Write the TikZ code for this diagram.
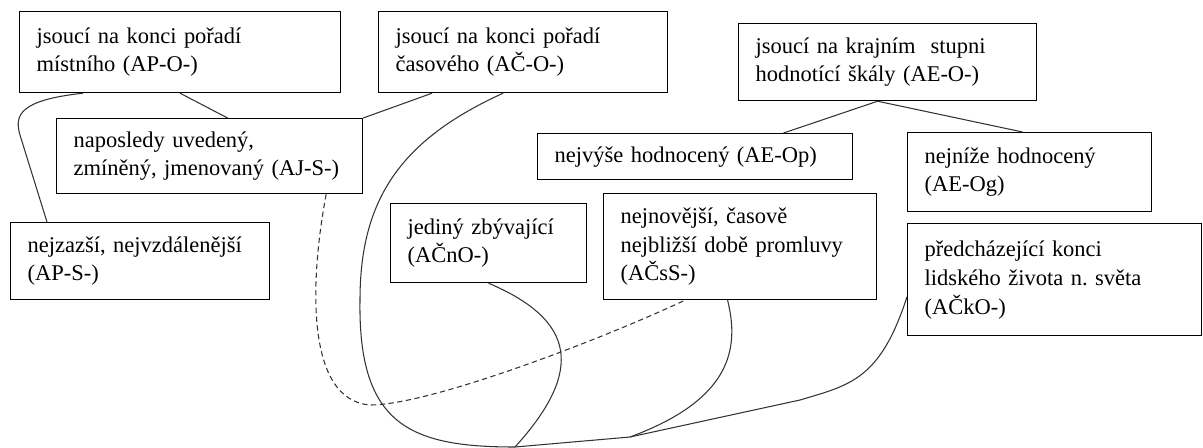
\documentclass[tikz,border=0pt]{standalone}
\usepackage{fontspec}
\setmainfont{Liberation Serif}
\usetikzlibrary{positioning}
\tikzset{
  box/.style={
    rectangle, draw=black, line width=0.7pt, anchor=north west,
    align=left, inner xsep=0.34cm, font=\fontsize{12.8pt}{16.4pt}\selectfont
  },
  link/.style={
    line width=0.6pt, black!80
  },
  hint/.style={
    link, dash pattern=on 3pt off 2pt
  }
}

\begin{document}
\begin{tikzpicture}[x=0.02cm, y=-0.02cm]
\useasboundingbox (0,0) rectangle (1203,447);
\node[box, text width=5.74cm, minimum height=1.62cm] (apo) at (19,11) {jsoucí na konci pořadí\\místního (AP-O-)};
\node[box, text width=5.10cm, minimum height=1.62cm] (aco) at (378,11) {jsoucí na konci pořadí\\časového (AČ-O-)};
\node[box, text width=5.28cm, minimum height=1.54cm] (aeo) at (738,23) {jsoucí na krajním\ \ stupni\\hodnotící škály (AE-O-)};
\node[box, text width=5.44cm, minimum height=1.50cm] (ajs) at (56,118) {naposledy uvedený,\\zmíněný, jmenovaný (AJ-S-)};
\node[box, text width=5.62cm, minimum height=0.92cm] (aeop) at (537,133) {nejvýše hodnocený (AE-Op)};
\node[box, text width=4.20cm, minimum height=1.58cm] (aeog) at (907,132) {nejníže hodnocený\\(AE-Og)};
\node[box, text width=4.50cm, minimum height=1.54cm] (aps) at (10,222) {nejzazší, nejvzdálenější\\(AP-S-)};
\node[box, text width=3.24cm, minimum height=1.58cm] (acno) at (390,203) {jediný zbývající\\(AČnO-)};
\node[box, text width=4.78cm, minimum height=2.12cm] (acss) at (603,193) {nejnovější, časově\\nejbližší době promluvy\\(AČsS-)};
\node[box, text width=5.20cm, minimum height=2.24cm, below=0.22cm of aeog.south west, anchor=north west] (acko) {předcházející konci\\lidského života n.\ světa\\(AČkO-)};

% meeting points at the lower edge
\coordinate (root) at (515,447);
\coordinate (fork) at (630,437);

\draw[link] (apo.south) -- ([xshift=0.36cm]ajs.north);
\draw[link] ([xshift=1.08cm]aco.south west) -- (ajs.north east);
\draw[link] ([xshift=1.28cm]apo.south west) .. controls (20,100) and (14,115) .. (20,135) -- ([xshift=0.74cm]aps.north west);
\draw[link] ([xshift=-0.2cm]aeo.south) -- ([xshift=1.77cm]aeop.north);
\draw[link] ([xshift=-0.2cm]aeo.south) -- ([xshift=-0.14cm]aeog.north);

\draw[link] ([xshift=-0.4cm]aco.south) .. controls (400,140) and (360,200) .. (360,300) .. controls (358,425) and (410,447) .. (root);
\draw[link] (acno.south) .. controls (575,320) and (585,370) .. (root);
\draw[link] ([xshift=-0.25cm]acss.south) .. controls (740,350) and (730,400) .. (fork);
\draw[link] ([yshift=-0.34cm]acko.west) .. controls (880,380) and (850,385) .. (800,400) -- (fork) -- (root);
\draw[hint] ([xshift=-0.74cm]ajs.south east) .. controls (310,280) and (305,400) .. (370,405) .. controls (430,405) and (600,340) .. ([xshift=1.64cm]acss.south west);
\end{tikzpicture}
\end{document}
